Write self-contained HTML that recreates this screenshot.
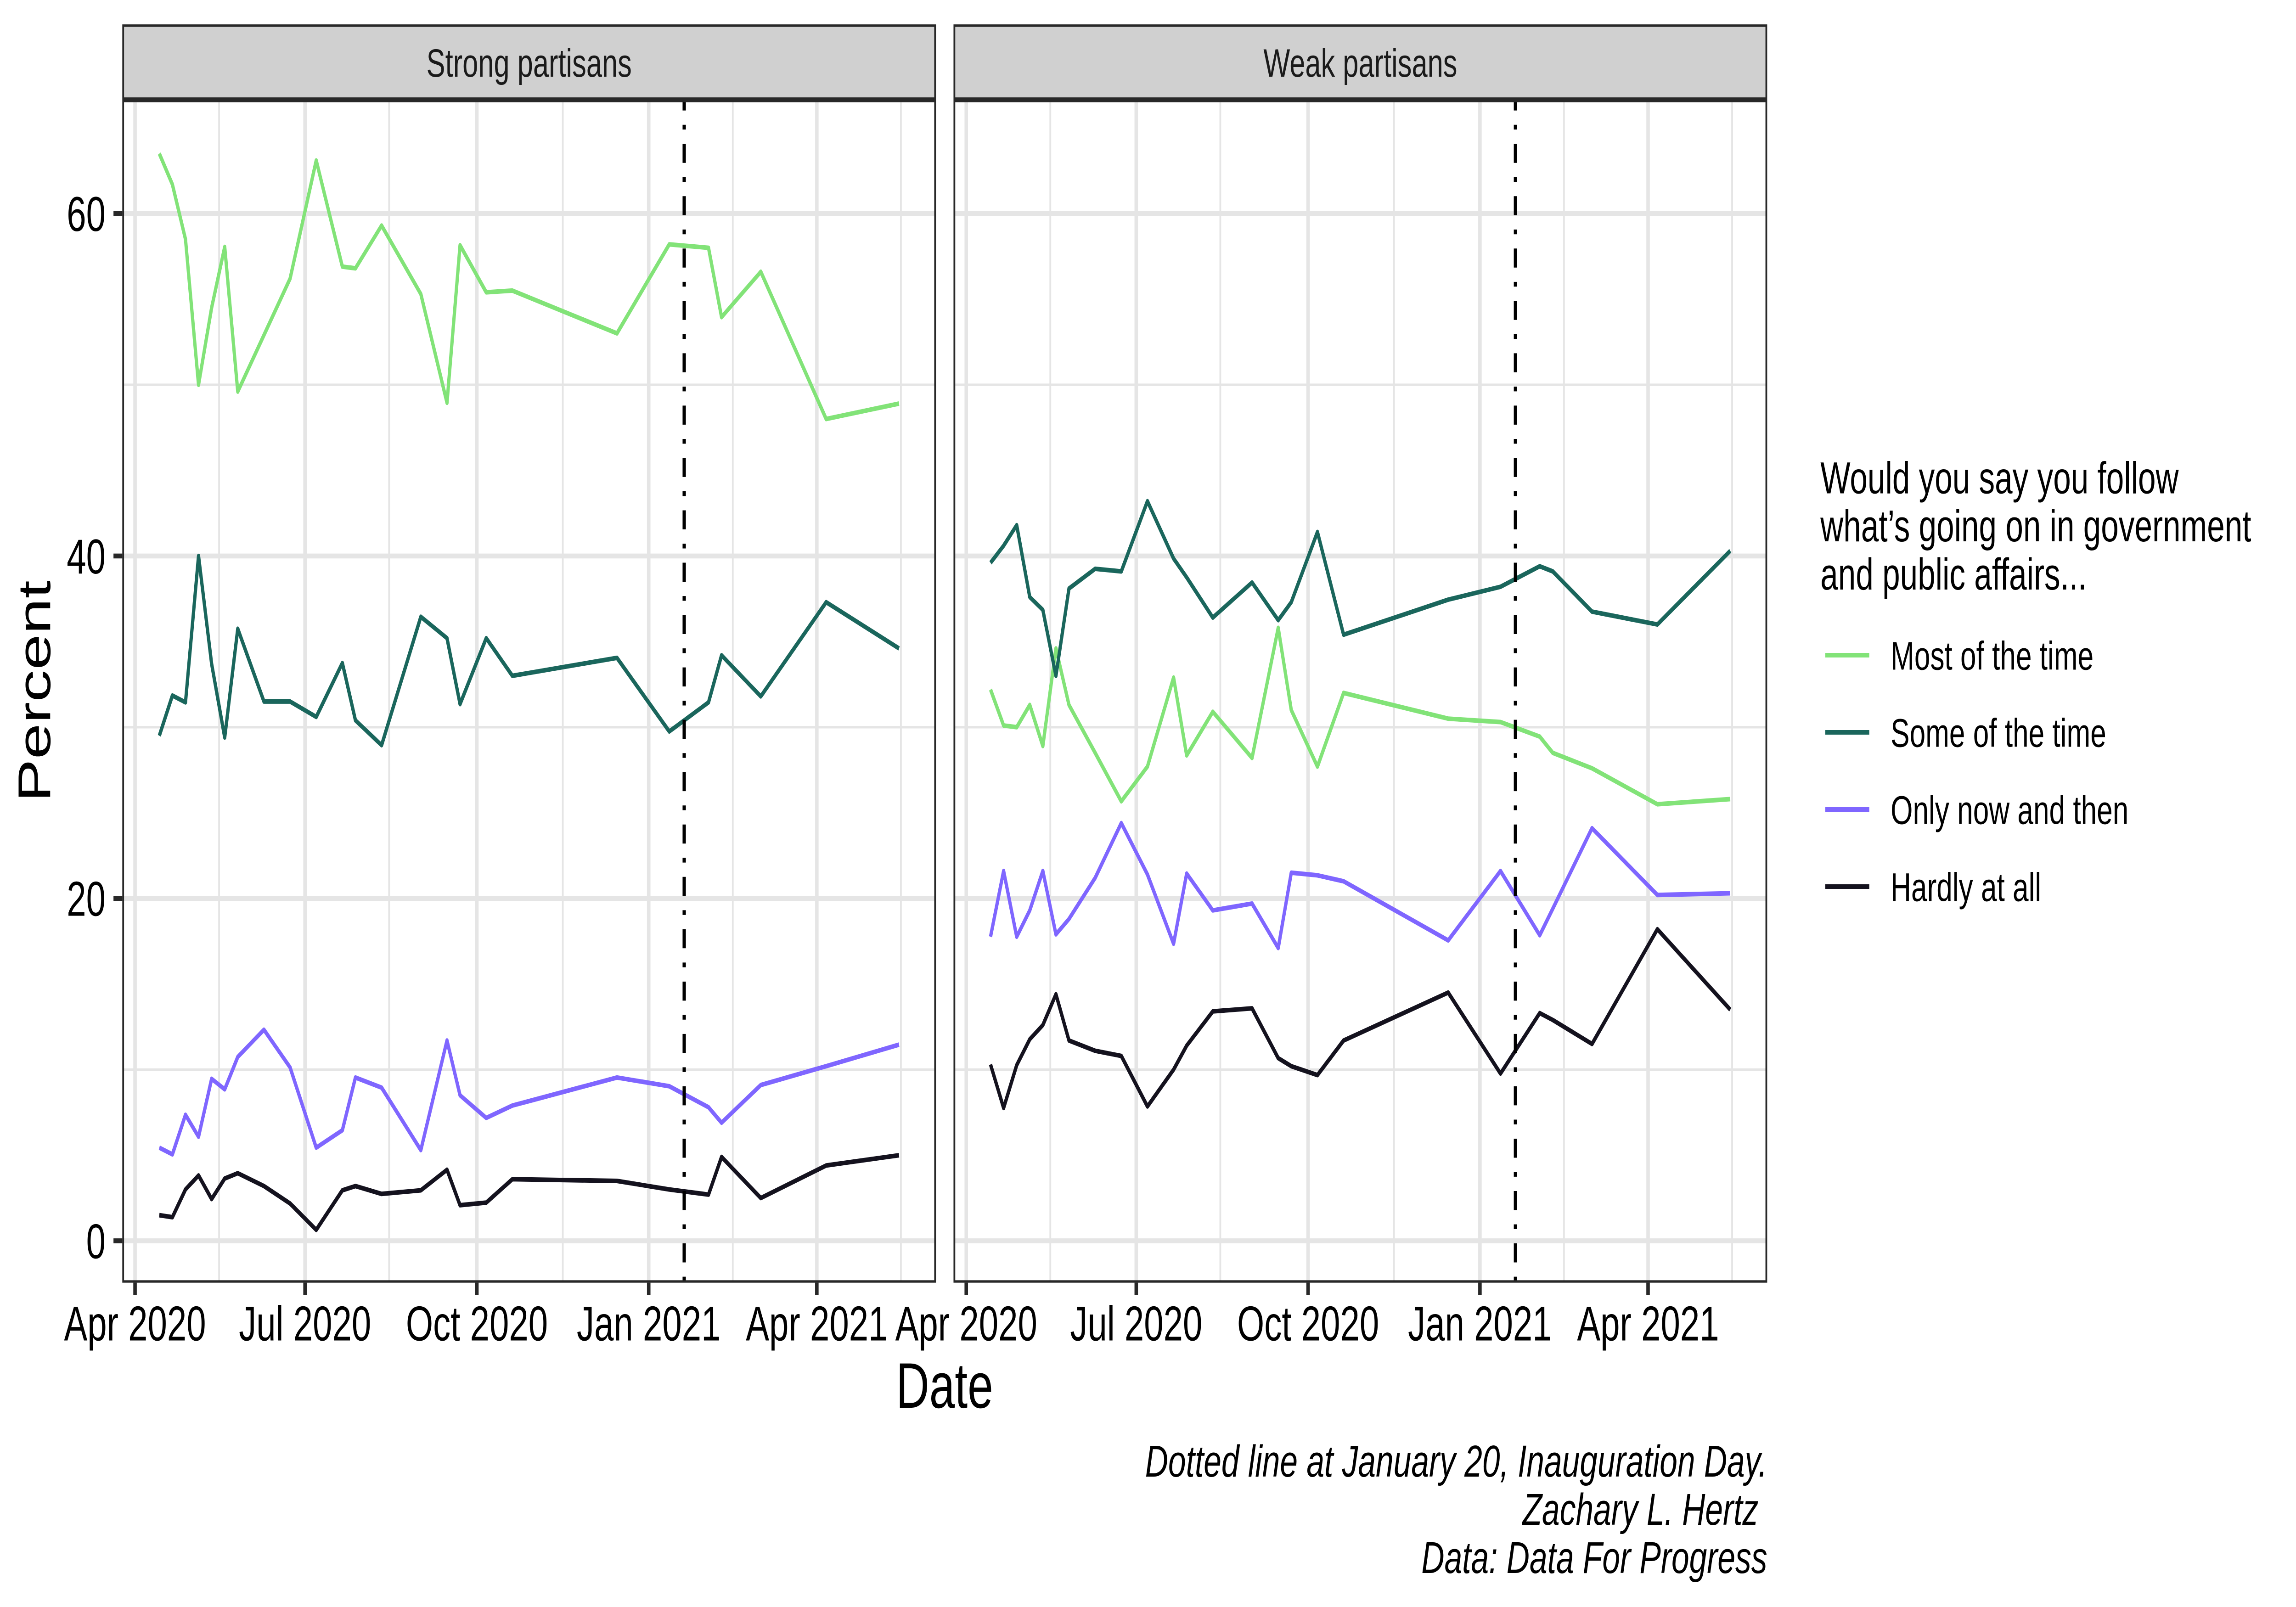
<!DOCTYPE html>
<html lang="en">
<head>
<meta charset="utf-8">
<title>Following government and public affairs by partisan strength</title>
<style>
html,body{margin:0;padding:0;background:#fff;width:100%;height:100%;overflow:hidden;}
svg{display:block;width:100vw;height:100vh;font-family:"Liberation Sans",Arial,sans-serif;}
</style>
</head>
<body>
<svg id="chart" xmlns="http://www.w3.org/2000/svg" viewBox="0 0 7000 3500" preserveAspectRatio="none">
  <rect x="0" y="0" width="7000" height="3500" fill="#ffffff"/>
  <g id="panels"></g>
  <text transform="translate(153,1505.5) rotate(-90)" text-anchor="middle" font-size="140" fill="#000">Percent</text>
  <text x="2880" y="3066" text-anchor="middle" font-size="140" fill="#000">Date</text>

  <g>
    <text font-size="97" fill="#000">
      <tspan x="5550" y="1074.5">Would you say you follow</tspan>
      <tspan x="5550" y="1179">what’s going on in government</tspan>
      <tspan x="5550" y="1284">and public affairs...</tspan>
    </text>
    <g id="legend-entries"></g>
  </g>

  <g font-size="97.3" font-style="italic" text-anchor="end" fill="#000">
    <text x="5388" y="3216">Dotted line at January 20, Inauguration Day.</text>
    <text x="5388" y="3321" style="white-space:pre">Zachary L. Hertz </text>
    <text x="5388" y="3426">Data: Data For Progress</text>
  </g>
</svg>
<script>
/* ---------- chart data ---------- */
var surveyDates = ['2020-04-14','2020-04-21','2020-04-28','2020-05-05','2020-05-12','2020-05-19','2020-05-26','2020-06-09','2020-06-23','2020-07-07','2020-07-21','2020-07-28','2020-08-11','2020-09-01','2020-09-15','2020-09-22','2020-10-06','2020-10-20','2020-12-15','2021-01-12','2021-02-02','2021-02-09','2021-03-02','2021-04-06','2021-05-15'];

var strongMost   = [63.5,61.7,58.5,50.0,54.5,58.05,49.6,52.9,56.2,63.1,56.9,56.8,59.3,55.3,48.95,58.15,55.4,55.5,53.0,58.2,58.0,53.95,56.6,48.0,48.9];
var strongSome   = [29.5,31.85,31.45,40.0,33.7,29.4,35.75,31.5,31.5,30.6,33.75,30.4,28.95,36.45,35.2,31.35,35.2,33.0,34.05,29.75,31.45,34.2,31.8,37.3,34.6];
var strongOnly   = [5.44,5.05,7.36,6.08,9.46,8.85,10.74,12.33,10.13,5.44,6.46,9.54,8.95,5.3,11.7,8.5,7.18,7.9,9.54,9.03,7.8,6.9,9.1,10.2,11.46];
var strongHardly = [1.5,1.38,3.0,3.82,2.44,3.64,3.95,3.2,2.18,0.64,2.95,3.2,2.74,2.95,4.15,2.08,2.23,3.6,3.5,3.0,2.7,4.9,2.5,4.4,5.0];

var weakMost   = [32.2,30.1,30.0,31.3,28.9,34.6,31.3,28.5,25.67,27.7,32.9,28.35,30.9,28.2,35.8,31.0,27.7,32.0,30.5,30.3,29.45,28.5,27.6,25.5,25.8];
var weakSome   = [39.6,40.6,41.8,37.6,36.85,33.0,38.1,39.25,39.1,43.2,39.85,38.75,36.4,38.45,36.25,37.3,41.4,35.4,37.45,38.2,39.4,39.1,36.75,36.0,40.3];
var weakOnly   = [17.76,21.6,17.76,19.3,21.6,17.9,18.8,21.2,24.4,21.4,17.35,21.45,19.3,19.7,17.1,21.5,21.35,21.0,17.55,21.6,17.85,19.4,24.1,20.2,20.3];
var weakHardly = [10.3,7.76,10.26,11.77,12.6,14.4,11.7,11.1,10.8,7.85,10.0,11.4,13.4,13.58,10.67,10.2,9.68,11.7,14.5,9.77,13.3,12.9,11.5,18.2,13.5];

var panelNames = ['Strong partisans','Weak partisans'];
var seriesNames = ['Most of the time','Some of the time','Only now and then','Hardly at all'];
var yTickValues = [0,20,40,60];
var yMinorValues = [10,30,50];
var xTickDates = ['2020-04-01','2020-07-01','2020-10-01','2021-01-01','2021-04-01'];
var xTickLabels = ['Apr 2020','Jul 2020','Oct 2020','Jan 2021','Apr 2021'];
var xMinorDates = ['2020-05-16','2020-08-15','2020-11-16','2021-02-15','2021-05-16'];
var inaugurationDate = '2021-01-20';

/* ---------- layout and style ---------- */
var NS = 'http://www.w3.org/2000/svg';
var panelLefts = [375.5, 2909.7];
var panelWidth = 2475.4;
var panelTop = 220, panelBottom = 2791;
var stripTop = 55.8, stripBottom = 214.8;
var zeroX = 36.2;           /* Apr 1 2020, relative to panel left */
var pxPerDay = 5.695;
var zeroY = 2702.5, pxPerUnit = 37.29;
var seriesColors = ['#82E378','#1A665C','#7F66FF','#14121E'];
var originDay = Date.UTC(2020,3,1);

function xScale(dateString, panelIndex){
  var p = dateString.split('-');
  var day = (Date.UTC(+p[0], +p[1]-1, +p[2]) - originDay) / 86400000;
  return panelLefts[panelIndex] + zeroX + day * pxPerDay;
}
function yScale(value){
  return zeroY - value * pxPerUnit;
}
function makeNode(tag, parent, props){
  var el = document.createElementNS(NS, tag);
  for (var k in props) el.setAttribute(k, props[k]);
  parent.appendChild(el);
  return el;
}
function makeLine(parent, x1, y1, x2, y2, color, width){
  return makeNode('line', parent, {x1:x1, y1:y1, x2:x2, y2:y2, stroke:color, 'stroke-width':width});
}

var panelSeries = [
  [strongMost, strongSome, strongOnly, strongHardly],
  [weakMost, weakSome, weakOnly, weakHardly]
];
var GRID = '#e5e5e5', DARK = '#282828';
var panelsRoot = document.getElementById('panels');

panelNames.forEach(function(panelName, pi){
  var left = panelLefts[pi], right = left + panelWidth;
  var slug = pi === 0 ? 'strong' : 'weak';

  var g = makeNode('g', panelsRoot, {});
  
  

  yMinorValues.forEach(function(v){
    var el = makeLine(g, left, yScale(v), right, yScale(v), GRID, 5.33);
    
    
  });
  xMinorDates.forEach(function(d){
    var x = xScale(d, pi);
    var el = makeLine(g, x, panelTop, x, panelBottom, GRID, 5.33);
    
    
  });
  yTickValues.forEach(function(v){
    var el = makeLine(g, left, yScale(v), right, yScale(v), GRID, 10.67);
    
    
  });
  xTickDates.forEach(function(d){
    var x = xScale(d, pi);
    var el = makeLine(g, x, panelTop, x, panelBottom, GRID, 10.67);
    
    
  });

  panelSeries[pi].forEach(function(values, si){
    var pts = values.map(function(v, i){
      return xScale(surveyDates[i], pi).toFixed(1) + ',' + yScale(v).toFixed(1);
    }).join(' ');
    var line = makeNode('polyline', g, {points:pts, fill:'none', stroke:seriesColors[si], 'stroke-width':10, 'stroke-linejoin':'round', 'stroke-linecap':'butt'});
    
    
  });

  var vx = xScale(inaugurationDate, pi);
  var vline = makeLine(g, vx, panelBottom, vx, panelTop, '#000', 10);
  vline.setAttribute('stroke-dasharray', '10.37 31.1 41.47 31.1');
  
  

  var border = makeNode('rect', g, {x:left, y:panelTop, width:panelWidth, height:panelBottom-panelTop, fill:'none', stroke:DARK, 'stroke-width':5.33});
  
  

  var strip = makeNode('rect', g, {x:left, y:stripTop, width:panelWidth, height:stripBottom-stripTop, fill:'#d0d0d0', stroke:DARK, 'stroke-width':5.33});
  
  

  var stripLabel = makeNode('text', g, {x:left+panelWidth/2, y:167, 'text-anchor':'middle', 'font-size':86, fill:'#1a1a1a'});
  stripLabel.textContent = panelName;
  
  

  xTickDates.forEach(function(d, i){
    var x = xScale(d, pi);
    var tick = makeLine(g, x, panelBottom+2.6, x, 2820, DARK, 10.67);
    
    
    var label = makeNode('text', g, {x:x, y:2919.3, 'text-anchor':'middle', 'font-size':106.67, fill:'#000'});
    label.textContent = xTickLabels[i];
    
    
  });

  if (pi === 0) {
    yTickValues.forEach(function(v){
      var y = yScale(v);
      var tick = makeLine(g, 346, y, left-2.6, y, DARK, 10.67);
      
      
      var label = makeNode('text', g, {x:322, y:y+38, 'text-anchor':'end', 'font-size':106.67, fill:'#000'});
      label.textContent = String(v);
      
      
    });
  }
});

var legendRoot = document.getElementById('legend-entries');
seriesNames.forEach(function(name, i){
  var y = 1427 + i * 168;
  var entry = makeNode('g', legendRoot, {});
  
  
  var key = makeLine(entry, 5565, y, 5699, y, seriesColors[i], 10);
  
  
  var label = makeNode('text', entry, {x:5764, y:y+31.5, 'font-size':87, fill:'#000'});
  label.textContent = name;
  
  
});
</script>
</body>
</html>
